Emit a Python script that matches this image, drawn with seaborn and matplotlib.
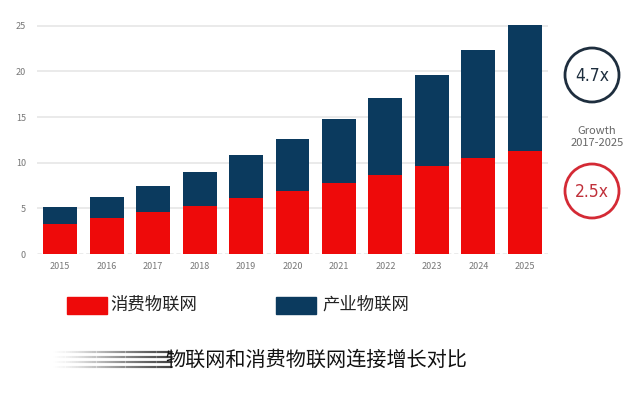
import matplotlib
matplotlib.use("Agg")
import matplotlib.pyplot as plt
import seaborn as sns
import pandas as pd
import numpy as np
from matplotlib.patches import Rectangle, Circle

years = ["2015", "2016", "2017", "2018", "2019", "2020", "2021", "2022", "2023", "2024", "2025"]
consumer = [3.25, 3.9, 4.55, 5.3, 6.15, 6.9, 7.75, 8.7, 9.6, 10.5, 11.3]
industrial = [1.95, 2.4, 2.95, 3.7, 4.65, 5.7, 7.05, 8.4, 10.0, 11.9, 13.8]
series_names = ["消费物联网", "产业物联网"]
growth_labels = ["4.7x", "2.5x"]
growth_text = "Growth\n2017-2025"
title = "物联网和消费物联网连接增长对比"
yticks = [0, 5, 10, 15, 20, 25]

RED = "#EE0A0A"
NAVY = "#0B3A5E"

sns.set_theme(style="white")
plt.rcParams['font.family'] = ['Noto Sans CJK SC', 'DejaVu Sans']

df = pd.DataFrame({"year": years, "consumer": consumer, "industrial": industrial})
df["total"] = df["consumer"] + df["industrial"]

W, H = 640, 393
fig = plt.figure(figsize=(W / 100, H / 100), dpi=100)
ax = fig.add_axes([37 / W, 1 - 254 / H, (548 - 37) / W, (254 - 14) / H])

sns.barplot(data=df, x="year", y="total", color=NAVY, width=0.73, ax=ax, saturation=1,
            linewidth=0, edgecolor="none")
sns.barplot(data=df, x="year", y="consumer", color=RED, width=0.73, ax=ax, saturation=1,
            linewidth=0, edgecolor="none")

ax.set_xlim(-0.5, 10.5)
ax.set_ylim(0, 26.3)
ax.set_yticks(yticks)
ax.set_yticklabels([str(v) for v in yticks])
for y in yticks[1:]:
    ax.axhline(y, color="#E6E6E6", lw=1.2, zorder=0)
ax.axhline(0, color="#9A9A9A", lw=1.0, ls=(0, (3, 2)), zorder=0)
ax.set_xlabel("")
ax.set_ylabel("")
for s in ax.spines.values():
    s.set_visible(False)
ax.tick_params(axis="both", length=0, labelsize=6.5, labelcolor="#777777")
ax.tick_params(axis="y", pad=8)
ax.tick_params(axis="x", pad=6)

# Growth annotation circles
for cy, ec in ((75, "#1E2E3E"), (191, "#D42A35")):
    c = Circle((592 / 100, (H - cy) / 100), 27 / 100, transform=fig.dpi_scale_trans,
               fill=False, ec=ec, lw=2.0)
    fig.patches.append(c)
fig.text(592 / W, 1 - 76 / H, growth_labels[0], ha="center", va="center", fontsize=12.5,
         color="#1E2E3E", family="DejaVu Sans", fontstretch="condensed")
fig.text(592 / W, 1 - 192 / H, growth_labels[1], ha="center", va="center", fontsize=12.5,
         color="#C0303A", family="DejaVu Sans", fontstretch="condensed")
fig.text(597 / W, 1 - 137 / H, growth_text, ha="center", va="center", fontsize=8,
         color="#666666", linespacing=1.3)

# Legend
fig.patches.append(Rectangle((67 / W, 1 - 314 / H), 40 / W, 17 / H, transform=fig.transFigure,
                             color=RED))
fig.text(110 / W, 1 - 305 / H, series_names[0], ha="left", va="center", fontsize=12.5, color="#222222")
fig.patches.append(Rectangle((276 / W, 1 - 314 / H), 40 / W, 17 / H, transform=fig.transFigure,
                             color=NAVY))
fig.text(322 / W, 1 - 305 / H, series_names[1], ha="left", va="center", fontsize=12.5, color="#222222")

# Bottom title with streak decoration
for i, yy in enumerate([352, 357, 362, 367]):
    n = 60
    xs = np.linspace(50, 172, n)
    for j in range(n - 1):
        a = (j / n) ** 1.5 * 0.8
        fig.add_artist(plt.Line2D([xs[j] / W, xs[j + 1] / W], [1 - yy / H, 1 - yy / H],
                                  transform=fig.transFigure, color="#333333", alpha=a, lw=1.6))
fig.text(165 / W, 1 - 360 / H, title, ha="left", va="center", fontsize=14.5, color="#111111")

fig.savefig("out.png", dpi=100)
